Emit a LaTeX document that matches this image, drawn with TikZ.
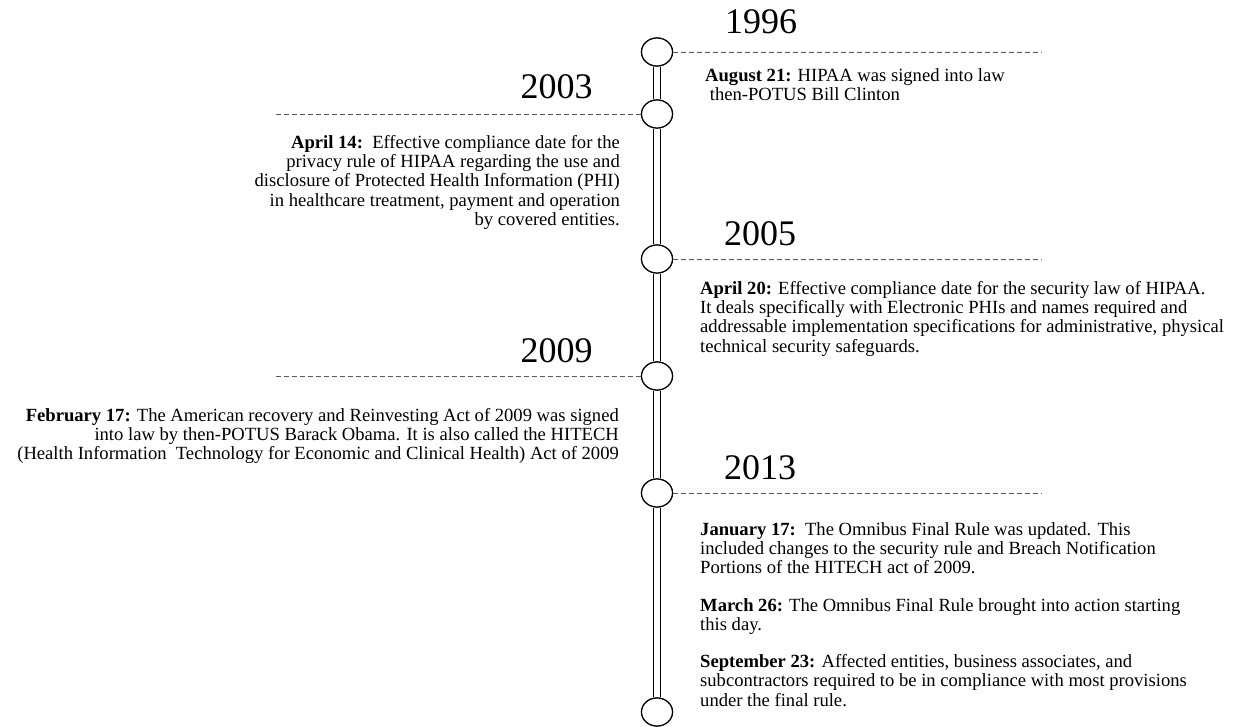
\documentclass[tikz,border=0pt]{standalone}
\usepackage{fontspec}
\setmainfont{Liberation Serif}
\usetikzlibrary{shapes.geometric}
\tikzset{
  evt/.style={ellipse, draw, line width=1.2pt, fill=white, minimum width=31pt, minimum height=28pt, inner sep=0pt},
  rail/.style={double, double distance=5.8pt, line width=1.3pt},
  guide/.style={draw=black!65, line width=0.9pt, dash pattern=on 4.5pt off 3.5pt},
  year/.style={font=\fontsize{36}{40}\selectfont, inner sep=0pt},
  bodyl/.style={align=left, anchor=north west, inner sep=0pt, font=\fontsize{18.6}{19.3}\selectfont},
  bodyr/.style={align=right, anchor=north east, inner sep=0pt, font=\fontsize{18.6}{19.3}\selectfont},
}
\begin{document}
\begin{tikzpicture}[x=1pt,y=-1pt]
\useasboundingbox[fill=white] (0,0) rectangle (1247,727);
% circles
\node[evt] (c1) at (657,52) {};
\node[evt] (c2) at (657,114) {};
\node[evt] (c3) at (657,259) {};
\node[evt] (c4) at (657,376) {};
\node[evt] (c5) at (657,493) {};
\node[evt] (c6) at (657,712) {};
% rail
\draw[rail] (c1) -- (c2);
\draw[rail] (c2) -- (c3);
\draw[rail] (c3) -- (c4);
\draw[rail] (c4) -- (c5);
\draw[rail] (c5) -- (c6);
\foreach \c in {c1,c2,c3,c4,c5,c6} \node[evt] at (\c) {};
% guides
\coordinate (g1) at (1042,52);
\coordinate (g2) at (275,114);
\coordinate (g3) at (1042,259);
\coordinate (g4) at (275,376);
\coordinate (g5) at (1042,493);
\draw[guide] (c1.east) -- (g1);
\draw[guide] (c2.west) -- (g2);
\draw[guide] (c3.east) -- (g3);
\draw[guide] (c4.west) -- (g4);
\draw[guide] (c5.east) -- (g5);
% years
\node[year] (y1) at (761,21.5) {1996};
\node[year] (y2) at (556.5,86.5) {2003};
\node[year] (y3) at (760,234) {2005};
\node[year] (y4) at (556.5,351) {2009};
\node[year] (y5) at (760,468) {2013};
% texts
\node[bodyl] (t1) at (705,68) {\textbf{August 21:} HIPAA was signed into law\\\ then-POTUS Bill Clinton};
\node[bodyr] (t2) at (620,135) {\textbf{April 14:}\ \ Effective compliance date for the\\privacy rule of HIPAA regarding the use and\\disclosure of Protected Health Information (PHI)\\in healthcare treatment, payment and operation\\by covered entities.};
\node[bodyl] (t3) at (700,281) {\textbf{April 20:} Effective compliance date for the security law of HIPAA.\\It deals specifically with Electronic PHIs and names required and\\addressable implementation specifications for administrative, physical\\technical security safeguards.};
\node[bodyr] (t4) at (619,408) {\textbf{February 17:} The American recovery and Reinvesting Act of 2009 was signed\\into law by then-POTUS Barack Obama. It is also called the HITECH\\(Health Information\ \ Technology for Economic and Clinical Health) Act of 2009};
\node[bodyl] (t5) at (700,522) {\textbf{January 17:}\ \ The Omnibus Final Rule was updated. This\\included changes to the security rule and Breach Notification\\Portions of the HITECH act of 2009.\\[18pt]\textbf{March 26:} The Omnibus Final Rule brought into action starting\\this day.\\[18pt]\textbf{September 23:} Affected entities, business associates, and\\subcontractors required to be in compliance with most provisions\\under the final rule.};
\end{tikzpicture}
\end{document}
